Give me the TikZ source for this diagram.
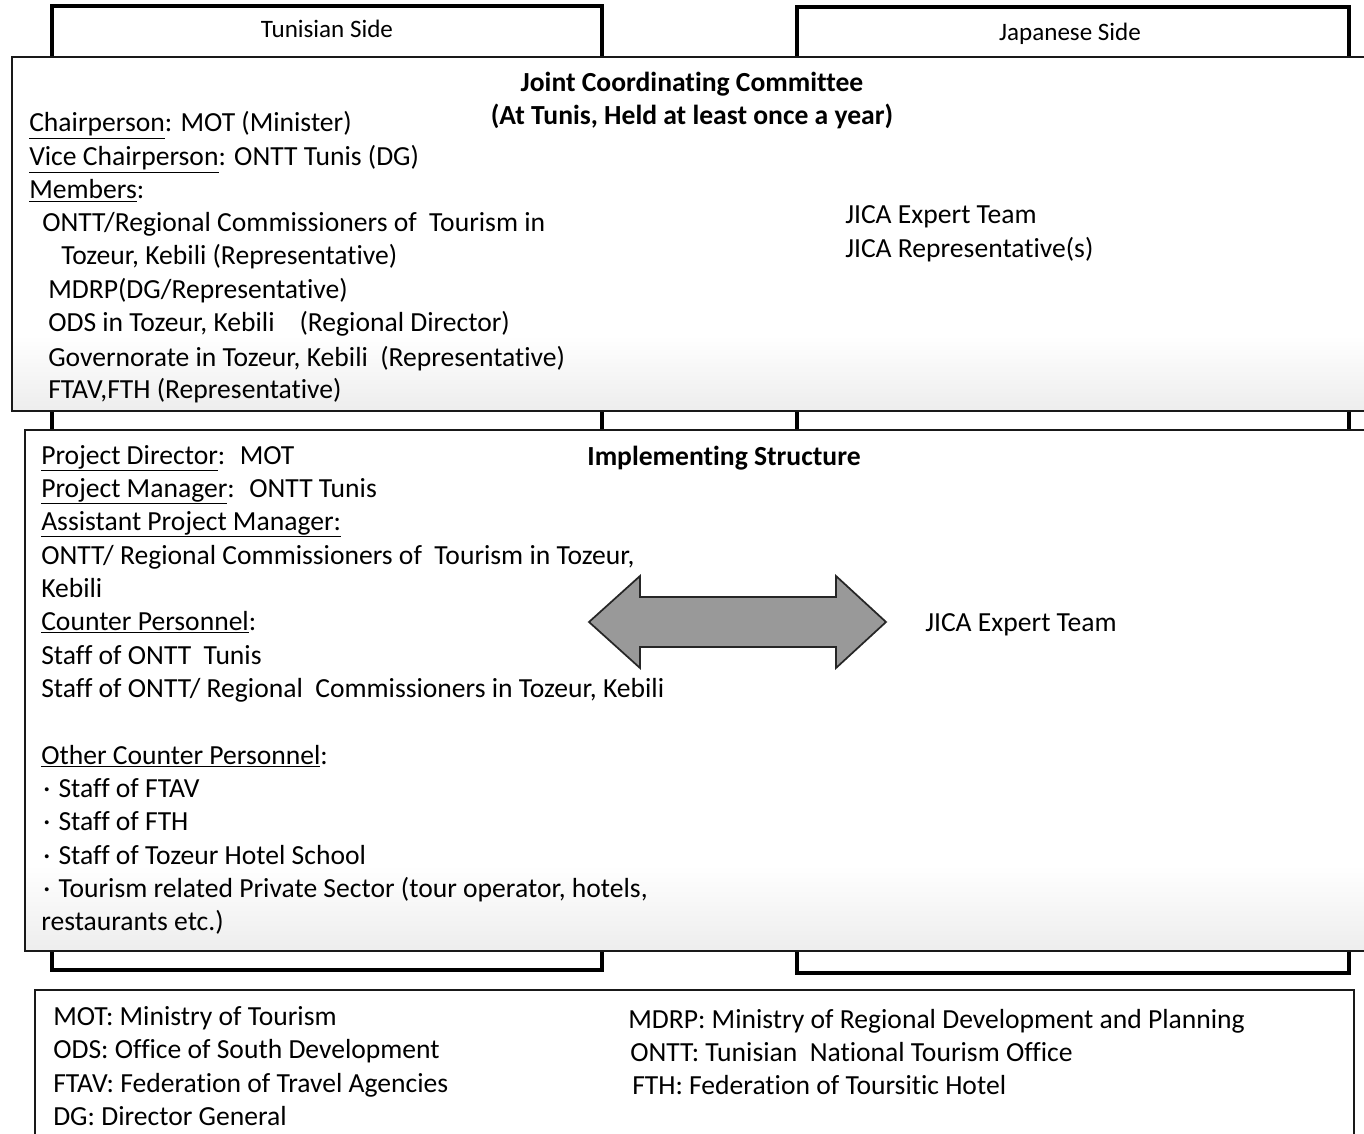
\documentclass[tikz,border=0pt]{standalone}
\usepackage{fontspec}
\setmainfont[Ligatures=NoCommon]{Carlito}
\newcommand{\bul}{\textperiodcentered\hspace{0.3em}}
\begin{document}
\begin{tikzpicture}[x=0.75pt,y=-0.75pt,
  colbox/.style={draw=black, line width=2.6pt, fill=white},
  mainbox/.style={draw=black!90, line width=1.3pt},
  speck/.style={top color=white, bottom color=black!7},
  txt/.style={anchor=base west, inner sep=0pt, font=\fontsize{20.7}{24}\selectfont},
  ttl/.style={anchor=base, inner sep=0pt, font=\fontsize{20.7}{24}\selectfont\bfseries},
  hdr/.style={anchor=base, inner sep=0pt, font=\fontsize{18.8}{22}\selectfont},
  bigarrow/.style={draw=black!85, line width=1.3pt, fill=black!40, line join=miter}]
\useasboundingbox (0,0) rectangle (1364,1134);
\clip (0,0) rectangle (1364,1134);

% side columns
\draw[colbox] (52,6) rectangle (602,970);
\draw[colbox] (797,7) rectangle (1349,973);
\node[hdr] (tun) at (327,38) {Tunisian Side};
\node[hdr] (jap) at (1070,41) {Japanese Side};

% Joint Coordinating Committee box
\fill[white] (12,57) rectangle (1380,411);
\shade[speck] (12,335) rectangle (1380,411);
\draw[mainbox] (12,57) rectangle (1380,411);

\node[ttl] (jcc1) at (692,92) {Joint Coordinating Committee};
\node[ttl] (jcc2) at (692,125) {(At Tunis, Held at least once a year)};
\node[txt] (chair) at (29,132) {\underline{Chairperson}: MOT (Minister)};
\node[txt] (vice) at (29,166) {\underline{Vice Chairperson}: ONTT Tunis (DG)};
\node[txt] (mem) at (29,199) {\underline{Members}:};
\node[txt] (m1) at (42,232) {ONTT/Regional Commissioners of \ Tourism in};
\node[txt] (m2) at (61,265) {Tozeur, Kebili (Representative)};
\node[txt] (m3) at (48,299) {MDRP(DG/Representative)};
\node[txt] (m4) at (48,332) {ODS in Tozeur, Kebili \ \ \ (Regional Director)};
\node[txt] (m5) at (48,366) {Governorate in Tozeur, Kebili \ (Representative)};
\node[txt] (m6) at (48,398) {FTAV,FTH (Representative)};
\node[txt] (j1) at (845,224) {JICA Expert Team};
\node[txt] (j2) at (845,258) {JICA Representative(s)};

% Implementing structure box
\fill[white] (25,430) rectangle (1380,951);
\shade[speck] (25,865) rectangle (1380,951);
\draw[mainbox] (25,430) rectangle (1380,951);

\node[ttl] (imp) at (724,465) {Implementing Structure};
\node[txt] (i1) at (41,464) {\underline{Project Director}: \ MOT};
\node[txt] (i2) at (41,497) {\underline{Project Manager}: \ ONTT Tunis};
\node[txt] (i3) at (41,530) {\underline{Assistant Project Manager:}};
\node[txt] (i4) at (41,564) {ONTT/ Regional Commissioners of \ Tourism in Tozeur,};
\node[txt] (i5) at (41,597) {Kebili};
\node[txt] (i6) at (41,630) {\underline{Counter Personnel}:};
\node[txt] (i7) at (41,664) {Staff of ONTT \ Tunis};
\node[txt] (i8) at (41,697) {Staff of ONTT/ Regional \ Commissioners in Tozeur, Kebili};
\node[txt] (i9) at (41,764) {\underline{Other Counter Personnel}:};
\node[txt] (i10) at (43,797) {\bul Staff of FTAV};
\node[txt] (i11) at (43,830) {\bul Staff of FTH};
\node[txt] (i12) at (43,864) {\bul Staff of Tozeur Hotel School};
\node[txt] (i13) at (43,897) {\bul Tourism related Private Sector (tour operator, hotels,};
\node[txt] (i14) at (41,930) {restaurants etc.)};
\node[txt] (ij) at (925,631) {JICA Expert Team};

% double arrow
\path[bigarrow] (589,622) -- (640,576) -- (640,597) -- (836,597) -- (836,576)
  -- (886,622) -- (836,668) -- (836,647) -- (640,647) -- (640,668) -- cycle;

% legend
\fill[white] (35,990) rectangle (1354,1150);
\draw[mainbox] (35,990) rectangle (1354,1150);
\node[txt] (l1) at (53,1025) {MOT: Ministry of Tourism};
\node[txt] (l2) at (53,1058) {ODS: Office of South Development};
\node[txt] (l3) at (53,1092) {FTAV: Federation of Travel Agencies};
\node[txt] (l4) at (53,1125) {DG: Director General};
\node[txt] (r1) at (628,1028) {MDRP: Ministry of Regional Development and Planning};
\node[txt] (r2) at (630,1061) {ONTT: Tunisian \ National Tourism Office};
\node[txt] (r3) at (632,1094) {FTH: Federation of Toursitic Hotel};
\end{tikzpicture}
\end{document}
